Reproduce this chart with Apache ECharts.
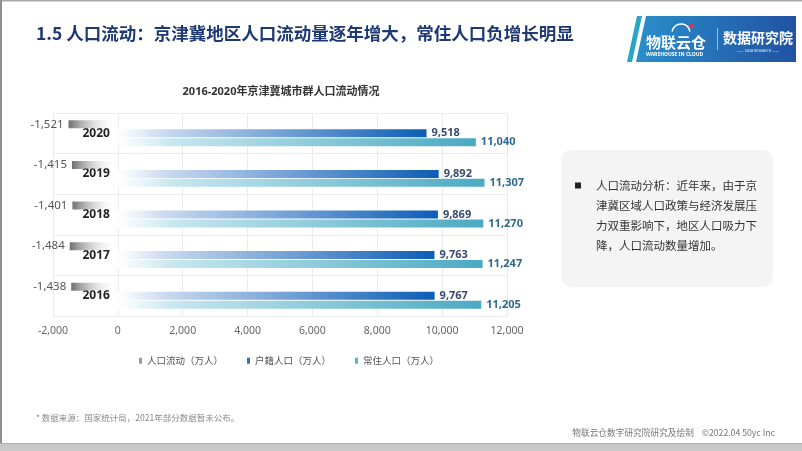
<!DOCTYPE html>
<html>
<head>
<meta charset="utf-8">
<script src="https://cdn.jsdelivr.net/npm/echarts@6/dist/echarts.min.js"></script>
<style>
html,body{margin:0;padding:0;background:#fff;}
#c{width:802px;height:451px;}
</style>
</head>
<body>
<div id="c"></div>
<script>
const years = ['2016', '2017', '2018', '2019', '2020'];
const flowValues = [-1438, -1484, -1401, -1415, -1521];
const huji = [9767, 9763, 9869, 9892, 9518];
const changzhu = [11205, 11247, 11270, 11307, 11040];
const xTicks = { min: -2000, max: 12000, interval: 2000 };
const seriesNames = ['人口流动（万人）', '户籍人口（万人）', '常住人口（万人）'];
const noteLines = ['人口流动分析：近年来，由于京', '津冀区域人口政策与经济发展压', '力双重影响下，地区人口吸力下', '降，人口流动数量增加。'];

const FF = "'Noto Sans', 'Noto Sans CJK SC', sans-serif";
const CJK = "'Noto Sans CJK SC', 'Noto Sans', sans-serif";
const fmt = v => Number(v).toLocaleString('en-US');
const LG = echarts.graphic.LinearGradient;

const gridLeft = 53, gridRight = 295, W = 802;
const plotW = W - gridLeft - gridRight;
const zeroOffset = (0 - xTicks.min) / (xTicks.max - xTicks.min) * plotW;

const chart = echarts.init(document.getElementById('c'));
const graphics = [
  { type: 'rect', shape: { x: 0, y: 0, width: 802, height: 1.5 }, style: { fill: '#a8a8a8' }, silent: true },
  { type: 'rect', shape: { x: 0, y: 0, width: 2, height: 451 }, style: { fill: '#8f8f8f' }, silent: true },
  { type: 'rect', shape: { x: 0, y: 444, width: 802, height: 7 }, style: { fill: '#c9c9c9' }, silent: true },
  { type: 'rect', shape: { x: 0, y: 443, width: 802, height: 1 }, style: { fill: '#b0b0b0' }, silent: true },
  { type: 'text', x: 36, y: 33, style: { text: '1.5 人口流动：京津冀地区人口流动量逐年增大，常住人口负增长明显', font: 'bold 17.5px ' + CJK, fill: '#1f3a73', verticalAlign: 'middle' } },
  // logo
  { type: 'polygon', shape: { points: [[637, 16], [642, 16], [632, 62], [627, 62]] }, style: { fill: '#27a6c6' }, silent: true },
  { type: 'polygon', shape: { points: [[646, 16], [796, 16], [796, 62], [636, 62]] },
    style: { fill: new LG(0, 0, 1, 0, [{ offset: 0, color: '#2a8fcb' }, { offset: 1, color: '#2152a3' }]) }, silent: true },
  { type: 'text', x: 646, y: 42, style: { text: '物联云仓', font: 'bold 15px ' + CJK, fill: '#fff', verticalAlign: 'middle' } },
  { type: 'arc', shape: { cx: 681, cy: 33, r: 9, startAngle: Math.PI * 1.05, endAngle: Math.PI * 1.95 }, style: { stroke: '#fff', lineWidth: 1.5, fill: null }, silent: true },
  { type: 'polygon', shape: { points: [[689, 24], [695, 25], [691, 29]] }, style: { fill: '#e8334a' }, silent: true },
  { type: 'text', x: 646, y: 55, style: { text: 'WAREHOUSE IN CLOUD', font: 'bold 5px ' + FF, fill: '#fff', verticalAlign: 'middle' } },
  { type: 'rect', shape: { x: 717, y: 28, width: 0.8, height: 22 }, style: { fill: 'rgba(255,255,255,0.7)' }, silent: true },
  { type: 'text', x: 723, y: 38, style: { text: '数据研究院', font: 'bold 14px ' + CJK, fill: '#fff', verticalAlign: 'middle' } },
  { type: 'text', x: 758, y: 51, style: { text: '—— DATA RESEARCH ——', font: '3.5px ' + FF, fill: '#dbe6f5', verticalAlign: 'middle', align: 'center' } },
  // chart title
  { type: 'text', x: 281, y: 92, style: { text: '2016-2020年京津冀城市群人口流动情况', font: 'bold 11px ' + FF, fill: '#333', verticalAlign: 'middle', align: 'center' } },
  // note panel
  { type: 'rect', shape: { x: 561, y: 150, width: 212, height: 137, r: 10 }, style: { fill: '#f4f4f4' }, silent: true },
  { type: 'rect', shape: { x: 575, y: 182.5, width: 6, height: 6 }, style: { fill: '#222' }, silent: true },
  // footer
  { type: 'text', x: 36, y: 418, style: { text: '* 数据来源：国家统计局，2021年部分数据暂未公布。', font: '8.5px ' + CJK, fill: '#8a8a8a', verticalAlign: 'middle' } },
  { type: 'text', x: 775, y: 433, style: { text: '物联云仓数字研究院研究及绘制    ©2022.04 50yc Inc', font: '8.7px ' + CJK, fill: '#777', verticalAlign: 'middle', align: 'right' } }
];
noteLines.forEach((t, i) => {
  graphics.push({ type: 'text', x: 596, y: 186 + i * 19.8, style: { text: t, font: '11.5px ' + CJK, fill: '#333', verticalAlign: 'middle' } });
});

chart.setOption({
  animation: false,
  textStyle: { fontFamily: FF },
  grid: { left: gridLeft, right: gridRight, top: 113, bottom: 135 },
  legend: {
    left: 134, top: 351, itemWidth: 3, itemHeight: 6, itemGap: 24, icon: 'rect',
    textStyle: { fontSize: 9.5, color: '#555', fontFamily: CJK },
    data: [
      { name: seriesNames[0], itemStyle: { color: '#9a9a9a' } },
      { name: seriesNames[1], itemStyle: { color: '#2f6fc0' } },
      { name: seriesNames[2], itemStyle: { color: '#58b3c9' } }
    ]
  },
  xAxis: {
    type: 'value', min: xTicks.min, max: xTicks.max, interval: xTicks.interval,
    axisLine: { show: false }, axisTick: { show: false },
    axisLabel: { formatter: fmt, color: '#666', fontSize: 10.5, margin: 10 },
    splitLine: { show: true, lineStyle: { color: '#ebebeb' } }
  },
  yAxis: [{
    type: 'category', data: years, position: 'left', offset: -zeroOffset,
    axisLine: { show: false, onZero: false },
    axisTick: { show: false },
    axisLabel: { color: '#222', fontWeight: 'bold', fontSize: 12, margin: 8 },
    splitLine: { show: true, interval: 0, lineStyle: { color: '#ebebeb' } }
  }],
  series: [
    {
      name: seriesNames[0], type: 'bar', data: flowValues, barWidth: 8, barGap: '12%',
      itemStyle: { color: new LG(0, 0, 1, 0, [{ offset: 0, color: '#6f6f6f' }, { offset: 1, color: 'rgba(255,255,255,0)' }]) },
      label: { show: true, position: 'left', distance: 5, formatter: p => fmt(p.value), color: '#555', fontSize: 11.5 }
    },
    {
      name: seriesNames[1], type: 'bar', data: huji, barWidth: 8, barGap: '12%',
      itemStyle: { color: new LG(0, 0, 1, 0, [{ offset: 0, color: 'rgba(255,255,255,0.9)' }, { offset: 0.15, color: '#c9d9ef' }, { offset: 1, color: '#0b5db6' }]) },
      label: { show: true, position: 'right', distance: 5, formatter: p => fmt(p.value), color: '#3a4a6e', fontWeight: 'bold', fontSize: 11 }
    },
    {
      name: seriesNames[2], type: 'bar', data: changzhu, barWidth: 8, barGap: '12%',
      itemStyle: { color: new LG(0, 0, 1, 0, [{ offset: 0, color: 'rgba(255,255,255,0.9)' }, { offset: 0.15, color: '#c7e7ef' }, { offset: 1, color: '#4aa9c2' }]) },
      label: { show: true, position: 'right', distance: 5, formatter: p => fmt(p.value), color: '#2c6a8e', fontWeight: 'bold', fontSize: 11 }
    }
  ],
  graphic: graphics
});
</script>
</body>
</html>
